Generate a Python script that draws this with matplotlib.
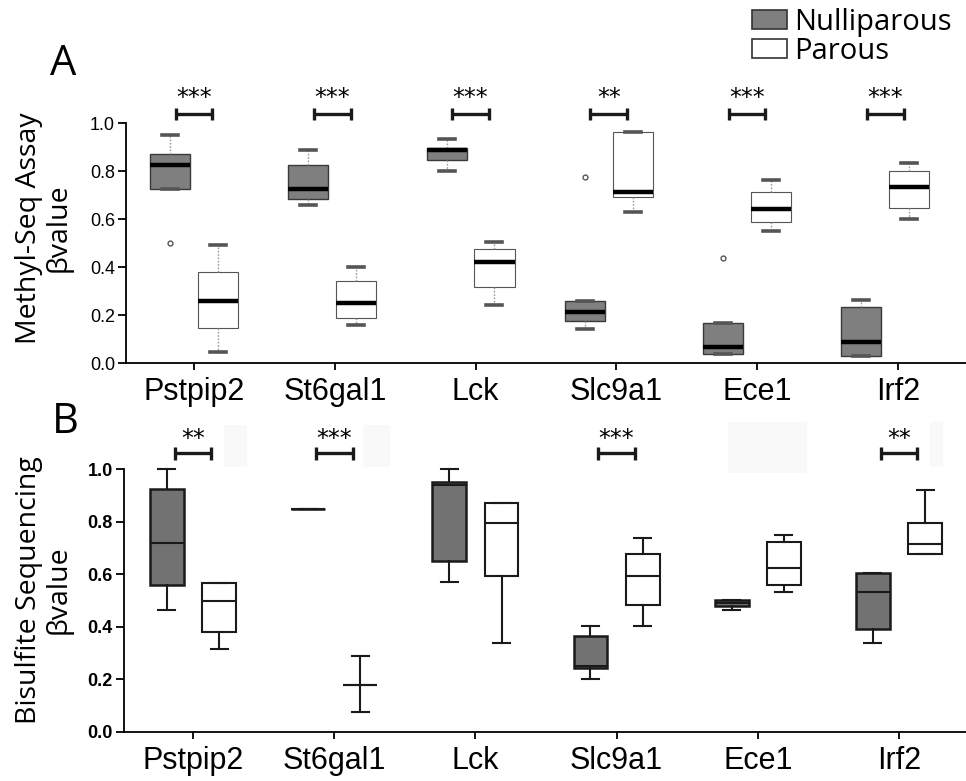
import matplotlib
matplotlib.use("Agg")
import matplotlib.pyplot as plt
from matplotlib.patches import Patch, Rectangle

genes = ["Pstpip2", "St6gal1", "Lck", "Slc9a1", "Ece1", "Irf2"]

# Panel A: Methyl-Seq assay (whislo, q1, med, q3, whishi)
a_null_whislo = [0.725, 0.660, 0.800, 0.142, 0.0375, 0.029]
a_null_q1     = [0.725, 0.683, 0.847, 0.175, 0.0375, 0.029]
a_null_med    = [0.825, 0.725, 0.887, 0.214, 0.065, 0.086]
a_null_q3     = [0.870, 0.825, 0.897, 0.260, 0.165, 0.235]
a_null_whishi = [0.950, 0.888, 0.932, 0.260, 0.165, 0.261]
a_null_fliers = [[0.50], [], [], [0.776], [0.436], []]

a_par_whislo = [0.045, 0.158, 0.240, 0.630, 0.550, 0.599]
a_par_q1     = [0.145, 0.188, 0.318, 0.692, 0.588, 0.647]
a_par_med    = [0.260, 0.250, 0.420, 0.714, 0.643, 0.732]
a_par_q3     = [0.380, 0.342, 0.475, 0.962, 0.712, 0.800]
a_par_whishi = [0.490, 0.400, 0.504, 0.962, 0.761, 0.832]

a_sig = ["***", "***", "***", "**", "***", "***"]

# Panel B: Bisulfite sequencing
b_null_whislo = [0.464, 0.848, 0.570, 0.200, 0.463, 0.337]
b_null_q1     = [0.559, 0.848, 0.651, 0.245, 0.478, 0.392]
b_null_med    = [0.718, 0.848, 0.938, 0.250, 0.490, 0.534]
b_null_q3     = [0.925, 0.848, 0.952, 0.364, 0.502, 0.605]
b_null_whishi = [1.000, 0.848, 1.000, 0.402, 0.502, 0.605]

b_par_whislo = [0.316, 0.076, 0.337, 0.402, 0.533, 0.676]
b_par_q1     = [0.379, 0.179, 0.592, 0.483, 0.559, 0.676]
b_par_med    = [0.499, 0.179, 0.793, 0.592, 0.625, 0.714]
b_par_q3     = [0.567, 0.179, 0.869, 0.676, 0.724, 0.793]
b_par_whishi = [0.567, 0.288, 0.869, 0.739, 0.750, 0.920]

b_sig = ["**", "***", "", "***", "", "**"]

yticks = [0.0, 0.2, 0.4, 0.6, 0.8, 1.0]
ytick_labels = ["0.0", "0.2", "0.4", "0.6", "0.8", "1.0"]

legend_labels = ["Nulliparous", "Parous"]

W, H = 966, 781
fig = plt.figure(figsize=(W / 100, H / 100), dpi=100)

axA = fig.add_axes([126 / W, 418 / H, 840 / W, 240 / H])
axB = fig.add_axes([124 / W, 49 / H, 842 / W, 263 / H])


def stats(wl, q1, med, q3, wh, fl=None):
    out = []
    for i in range(len(wl)):
        out.append(dict(whislo=wl[i], q1=q1[i], med=med[i], q3=q3[i], whishi=wh[i],
                        fliers=(fl[i] if fl is not None else [])))
    return out


def noclip(d):
    for k, v in d.items():
        for art in v:
            art.set_clip_on(False)


grey_A = "#7f7f7f"
grey_B = "#727272"

# ---------- Panel A ----------
spacingA = 0.982
offA = 0.17
wA = 0.285
posA_n = [i * spacingA - offA for i in range(len(genes))]
posA_p = [i * spacingA + offA for i in range(len(genes))]

commonA = dict(
    widths=wA, patch_artist=True, showfliers=True, capwidths=wA * 0.4,
    whiskerprops=dict(color="#9a9a9a", linestyle=(0, (1.2, 1.2)), linewidth=1.0),
    capprops=dict(color="#555555", linewidth=2.6),
    medianprops=dict(color="black", linewidth=3.2),
    flierprops=dict(marker="o", markersize=3.5, markerfacecolor="none",
                    markeredgecolor="#555555", markeredgewidth=1.0),
)
d = axA.bxp(stats(a_null_whislo, a_null_q1, a_null_med, a_null_q3, a_null_whishi, a_null_fliers),
            positions=posA_n,
            boxprops=dict(facecolor=grey_A, edgecolor="#3a3a3a", linewidth=1.0), **commonA)
noclip(d)
d = axA.bxp(stats(a_par_whislo, a_par_q1, a_par_med, a_par_q3, a_par_whishi),
            positions=posA_p,
            boxprops=dict(facecolor="white", edgecolor="#555555", linewidth=0.8), **commonA)
noclip(d)

# ---------- Panel B ----------
offB = 0.185
wB = 0.24
posB_n = [i - offB for i in range(len(genes))]
posB_p = [i + offB for i in range(len(genes))]
commonB = dict(
    widths=wB, patch_artist=True, showfliers=False, capwidths=wB * 0.5,
    whiskerprops=dict(color="#1a1a1a", linewidth=1.5),
    capprops=dict(color="#1a1a1a", linewidth=1.5),
    medianprops=dict(color="#1a1a1a", linewidth=1.5),
)
d = axB.bxp(stats(b_null_whislo, b_null_q1, b_null_med, b_null_q3, b_null_whishi),
            positions=posB_n,
            boxprops=dict(facecolor=grey_B, edgecolor="#1a1a1a", linewidth=1.8), **commonB)
noclip(d)
d = axB.bxp(stats(b_par_whislo, b_par_q1, b_par_med, b_par_q3, b_par_whishi),
            positions=posB_p,
            boxprops=dict(facecolor="white", edgecolor="#1a1a1a", linewidth=1.5), **commonB)
noclip(d)

# ---------- Axes styling ----------
for ax, xl, bold in [(axA, (-0.483, 5.483), False), (axB, (-0.489, 5.475), True)]:
    ax.set_xlim(*xl)
    ax.set_ylim(0, 1.0)
    for s in ["top", "right"]:
        ax.spines[s].set_visible(False)
    ax.spines["left"].set_bounds(0, 1.0)
    ax.spines["left"].set_linewidth(1.3)
    ax.spines["bottom"].set_linewidth(1.3)
    ax.set_xticks(range(len(genes)))
    ax.set_xticklabels(genes, fontsize=22, family="Liberation Sans")
    ax.set_yticks(yticks)
    ax.set_yticklabels(ytick_labels, fontsize=13, family="Liberation Sans",
                       fontweight="bold" if bold else "normal")
    ax.tick_params(axis="x", length=5, width=1.3, pad=5)
    ax.tick_params(axis="y", length=6, width=1.3, pad=2)
    ax.patch.set_visible(False)


def brackets(ax, centers, sigs, ybar, ystar, half=0.13, tick=0.025):
    for c, s in zip(centers, sigs):
        if not s:
            continue
        ax.plot([c - half, c + half], [ybar, ybar], color="#1a1a1a", lw=2.4,
                clip_on=False, solid_capstyle="butt")
        for x in (c - half, c + half):
            ax.plot([x, x], [ybar - tick, ybar + tick], color="#1a1a1a", lw=2.4,
                    clip_on=False, solid_capstyle="butt")
        ax.text(c, ystar, s, ha="center", va="center", fontsize=17,
                family="DejaVu Sans", clip_on=False)


brackets(axA, [i * spacingA for i in range(len(genes))], a_sig, 1.0375, 1.105, tick=0.027)
brackets(axB, list(range(len(genes))), b_sig, 1.06, 1.115, tick=0.024)

# faint leftover patches in panel B
for (x0, y0, x1, y1) in [(224, 425, 247, 467), (363, 425, 390, 467),
                         (728, 422, 807, 473), (930, 422, 943, 467)]:
    fig.patches.append(Rectangle((x0 / W, 1 - y1 / H), (x1 - x0) / W, (y1 - y0) / H,
                                 transform=fig.transFigure, facecolor="#f9f9f9",
                                 edgecolor="none", zorder=0))

# panel letters
fig.text(50 / W, 1 - 75 / H, "A", fontsize=30, family="Open Sans", va="baseline")
fig.text(52 / W, 1 - 433 / H, "B", fontsize=30, family="Open Sans", va="baseline")

# y labels
fig.text(44 / W, 1 - 228 / H, "Methyl-Seq Assay\nβvalue", rotation=90, ha="center",
         va="center", multialignment="center", fontsize=20.5, family="Open Sans",
         linespacing=1.05)
fig.text(44 / W, 1 - 590 / H, "Bisulfite Sequencing\nβvalue", rotation=90, ha="center",
         va="center", multialignment="center", fontsize=20.5, family="Open Sans",
         linespacing=1.05)

# legend
handles = [Patch(facecolor=grey_A, edgecolor="#333333", linewidth=1.2),
           Patch(facecolor="white", edgecolor="#333333", linewidth=1.2)]
fig.legend(handles, legend_labels, loc="upper left", bbox_to_anchor=(752 / W, 1 - 8 / H),
           frameon=False, prop={"family": "Open Sans", "size": 21},
           handlelength=1.2, handleheight=0.6, handletextpad=0.25, labelspacing=0.0,
           borderpad=0, borderaxespad=0)

fig.savefig("out.png", dpi=100, facecolor="white")
